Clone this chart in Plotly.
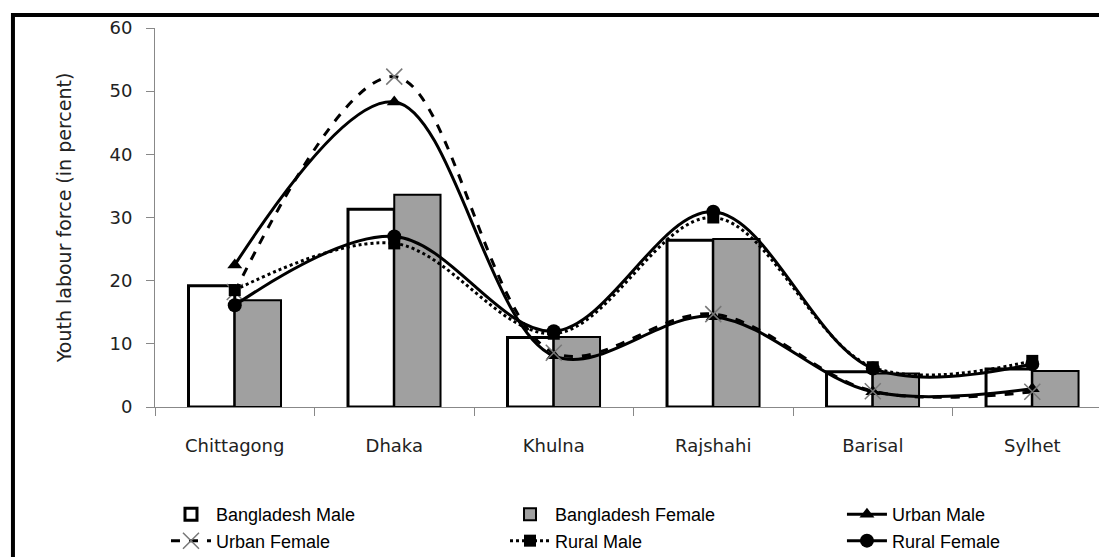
import plotly.graph_objects as go

regions = ["Chittagong", "Dhaka", "Khulna", "Rajshahi", "Barisal", "Sylhet"]
bd_male = [19.2, 31.3, 11.0, 26.4, 5.6, 6.0]
bd_female = [16.9, 33.6, 11.1, 26.6, 5.3, 5.7]
urban_male = [22.5, 48.3, 8.1, 14.3, 2.4, 2.9]
urban_female = [18.2, 52.3, 8.6, 14.7, 2.5, 2.4]
rural_male = [18.5, 25.9, 11.6, 30.0, 6.3, 7.3]
rural_female = [16.1, 27.0, 12.0, 30.9, 6.1, 6.8]

fig = go.Figure()
fig.add_trace(go.Bar(x=regions, y=bd_male, name="Bangladesh Male", legend="legend",
                     marker=dict(color="white", line=dict(color="black", width=3))))
fig.add_trace(go.Bar(x=regions, y=bd_female, name="Bangladesh Female", legend="legend2",
                     marker=dict(color="#a0a0a0", line=dict(color="black", width=2))))
fig.add_trace(go.Scatter(x=regions, y=urban_male, name="Urban Male", mode="lines+markers",
                         legend="legend3",
                         line=dict(color="black", width=3, shape="spline", smoothing=1.0),
                         marker=dict(symbol="triangle-up", size=13, color="black")))
fig.add_trace(go.Scatter(x=regions, y=urban_female, name="Urban Female", mode="lines+markers",
                         legend="legend",
                         line=dict(color="black", width=3, dash="dash", shape="spline", smoothing=1.0),
                         marker=dict(symbol="x-thin", size=16, color="#777777",
                                     line=dict(color="#777777", width=1.5))))
fig.add_trace(go.Scatter(x=regions, y=rural_male, name="Rural Male", mode="lines+markers",
                         legend="legend2",
                         line=dict(color="black", width=3, dash="dot", shape="spline", smoothing=1.0),
                         marker=dict(symbol="square", size=12, color="black")))
fig.add_trace(go.Scatter(x=regions, y=rural_female, name="Rural Female", mode="lines+markers",
                         legend="legend3",
                         line=dict(color="black", width=3, shape="spline", smoothing=1.0),
                         marker=dict(symbol="circle", size=14, color="black")))

legend_font = dict(family="Liberation Sans Narrow, Liberation Sans", size=18, color="black")

def leg(x):
    return dict(orientation="v", x=x, xanchor="left", y=-0.235, yanchor="top",
                font=legend_font, itemwidth=40, traceorder="normal", tracegroupgap=0,
                bgcolor="rgba(0,0,0,0)")

# page body has an 8px margin, so the figure is sized to fit the 1107x557 window
fig.update_layout(
    width=1099, height=549,
    margin=dict(l=147, r=5, t=20, b=150, autoexpand=False),
    plot_bgcolor="white", paper_bgcolor="white",
    barmode="group", bargap=0.42, bargroupgap=0,
    showlegend=True,
    legend=leg(0.0116), legend2=leg(0.3696), legend3=leg(0.7254),
    font=dict(family="DejaVu Sans", color="#222222"),
)
fig.update_xaxes(type="category", range=[-0.5, 5.437], showline=True, linecolor="#888888",
                 linewidth=1, ticks="outside", tickson="boundaries", ticklen=8, tickcolor="#888888",
                 showgrid=False, tickfont=dict(size=18, family="DejaVu Sans", color="#222222"),
                 ticklabelstandoff=22)
fig.update_yaxes(range=[0, 60], dtick=10, showline=True, linecolor="#888888", linewidth=1,
                 ticks="outside", ticklen=8, tickcolor="#888888", showgrid=False, zeroline=False,
                 tickfont=dict(size=18, family="DejaVu Sans", color="#222222"),
                 ticklabelstandoff=10,
                 title=dict(text="Youth labour force (in percent)",
                            font=dict(size=19, family="DejaVu Sans", color="#222222"), standoff=32))

fig.add_shape(type="rect", xref="paper", yref="paper", x0=-0.15, x1=1.03, y0=-0.45, y1=1.034,
              line=dict(color="black", width=4), fillcolor="rgba(0,0,0,0)", layer="above")

fig.write_html("out.html")
